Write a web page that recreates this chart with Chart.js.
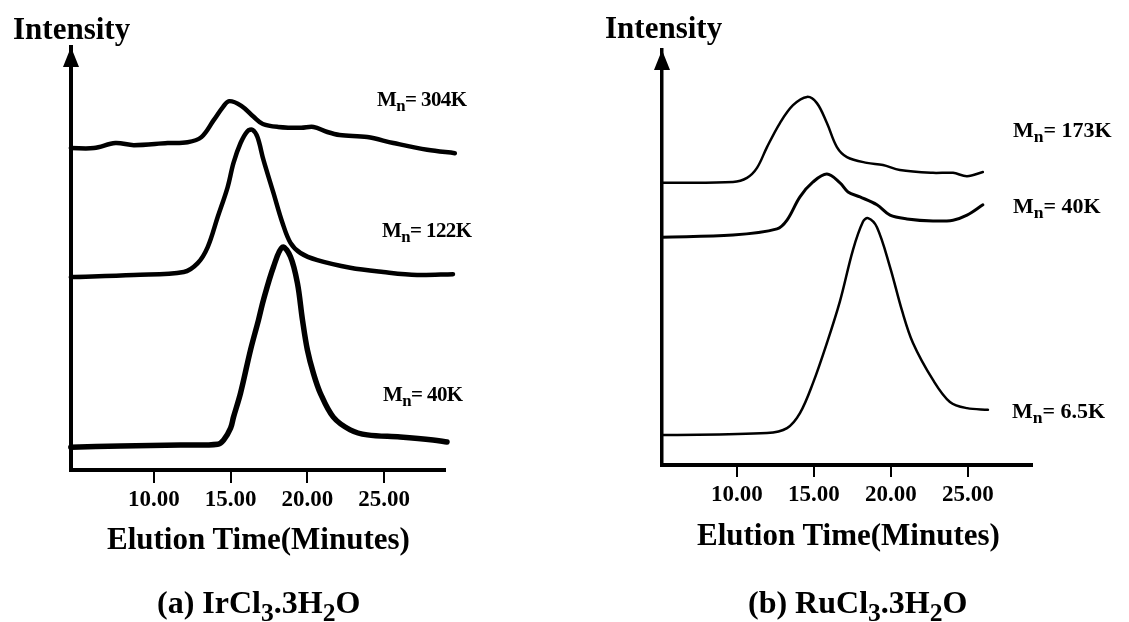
<!DOCTYPE html>
<html>
<head>
<meta charset="utf-8">
<script src="https://cdn.jsdelivr.net/npm/chart.js@4"></script>
<style>
html, body { margin: 0; padding: 0; background: #fff; }
#page { position: relative; width: 1129px; height: 622px; overflow: hidden;
        font-family: "Liberation Serif", "Times New Roman", serif; font-weight: bold; color: #000; }
canvas { position: absolute; top: 0; }
.lbl { position: absolute; line-height: 1; white-space: nowrap; }
.sub { font-size: 0.8em; position: relative; top: 0.3em; }
.mn { letter-spacing: -0.6px; }
</style>
</head>
<body>
<div id="page">
  <canvas id="chartA" width="565" height="622" style="left:0"></canvas>
  <canvas id="chartB" width="564" height="622" style="left:565px"></canvas>

  <div class="lbl" style="left:13px;top:13px;font-size:31px">Intensity</div>
  <div class="lbl" style="left:605px;top:12px;font-size:31px">Intensity</div>

  <div class="lbl mn" style="left:377px;top:89px;font-size:21px">M<span class="sub">n</span>= 304K</div>
  <div class="lbl mn" style="left:382px;top:220px;font-size:21px">M<span class="sub">n</span>= 122K</div>
  <div class="lbl mn" style="left:383px;top:384px;font-size:21px">M<span class="sub">n</span>= 40K</div>

  <div class="lbl" style="left:1013px;top:119px;font-size:22px">M<span class="sub">n</span>= 173K</div>
  <div class="lbl" style="left:1013px;top:195px;font-size:22px">M<span class="sub">n</span>= 40K</div>
  <div class="lbl" style="left:1012px;top:400px;font-size:22px">M<span class="sub">n</span>= 6.5K</div>

  <div class="lbl" style="left:107px;top:523px;font-size:31px">Elution Time(Minutes)</div>
  <div class="lbl" style="left:697px;top:519px;font-size:31px">Elution Time(Minutes)</div>

  <div class="lbl" style="left:157px;top:586px;font-size:32px">(a) IrCl<span class="sub">3</span>.3H<span class="sub">2</span>O</div>
  <div class="lbl" style="left:748px;top:586px;font-size:32px">(b) RuCl<span class="sub">3</span>.3H<span class="sub">2</span>O</div>
</div>

<script>
var xTicks = [10, 15, 20, 25];

// (a) IrCl3.3H2O  - elution time (min) and intensity (arbitrary units)
var timeA304 = [4.6, 6.1, 7.5, 8.7, 10.9, 12.2, 13.1, 13.9, 14.5, 14.9, 15.7, 16.5, 17.1, 18.1, 19.6, 20.4, 21.3, 22.1, 23.9, 25.6, 27.8, 29.6];
var intA304  = [76.1, 76.1, 77.3, 76.8, 77.3, 77.5, 78.7, 82.7, 85.8, 87.2, 86.1, 83.5, 81.8, 81.1, 80.9, 81.1, 79.9, 79.2, 78.7, 77.3, 75.7, 74.9];

var timeA122 = [4.6, 8.7, 11.95, 12.86, 13.51, 14.16, 14.81, 15.19, 15.65, 16.1, 16.43, 16.75, 17.14, 17.79, 18.38, 18.9, 19.55, 20.65, 22.79, 24.94, 27.14, 29.48];
var intA122  = [45.6, 46.1, 46.8, 48.9, 52.7, 59.8, 66.9, 72.6, 77.3, 80.1, 80.4, 78.7, 73.3, 65.5, 58.4, 53.7, 51.3, 49.6, 47.8, 46.8, 46.1, 46.3];

var timeA40 = [4.6, 7.86, 11.75, 14.16, 14.55, 15.0, 15.19, 15.65, 16.3, 16.82, 17.14, 17.79, 18.38, 18.9, 19.35, 19.68, 20.0, 20.39, 20.84, 21.69, 22.79, 23.9, 26.04, 28.18, 29.09];
var intA40  = [5.4, 5.7, 5.9, 6.1, 7.1, 9.9, 12.5, 18.2, 28.4, 35.5, 40.2, 48.0, 52.7, 50.4, 44.2, 35.5, 28.4, 22.9, 18.2, 12.5, 9.5, 8.3, 7.8, 7.1, 6.6];

// (b) RuCl3.3H2O
var timeB173 = [5.13, 9.74, 10.65, 11.3, 11.95, 12.79, 13.64, 14.55, 15.19, 15.84, 16.49, 17.14, 18.44, 19.48, 20.58, 22.73, 24.03, 24.94, 25.97];
var intB173  = [68.0, 68.2, 69.2, 71.6, 76.6, 82.4, 86.7, 88.7, 87.2, 82.4, 76.6, 74.2, 72.8, 72.3, 71.1, 70.4, 70.4, 69.6, 70.6];

var timeB40 = [5.13, 9.74, 12.6, 13.25, 14.09, 14.94, 15.84, 16.69, 17.21, 17.99, 19.09, 19.94, 21.04, 22.73, 24.03, 24.94, 25.97];
var intB40  = [54.9, 55.4, 56.9, 59.0, 64.6, 68.2, 70.1, 68.0, 65.8, 64.6, 62.7, 60.2, 59.3, 58.8, 59.0, 60.2, 62.7];

var timeB6 = [5.13, 11.95, 13.25, 14.09, 14.94, 15.84, 16.69, 17.53, 18.18, 18.51, 19.09, 19.94, 20.71, 21.43, 22.73, 23.83, 24.94, 26.3];
var intB6  = [7.2, 7.7, 8.9, 12.5, 19.8, 29.4, 39.5, 51.8, 58.6, 59.5, 57.3, 47.7, 37.3, 29.4, 20.5, 15.2, 13.7, 13.3];

var fontFamily = '"Liberation Serif", "Times New Roman", serif';

function pairs(xs, ys) {
    return xs.map(function(x, i) { return {x: x, y: ys[i]}; });
}

function series(xs, ys, width) {
    return {
        data: pairs(xs, ys),
        borderColor: '#000',
        borderWidth: width,
        pointRadius: 0,
        fill: false,
        tension: 0.35,
        borderJoinStyle: 'round',
        borderCapStyle: 'round',
        clip: false
    };
}

var arrowPlugin = {
    id: 'axisArrow',
    afterDraw: function(chart) {
        var ctx = chart.ctx, a = chart.chartArea;
        ctx.save();
        ctx.fillStyle = '#000';
        ctx.beginPath();
        ctx.moveTo(a.left, a.top);
        ctx.lineTo(a.left - 8, a.top + 20);
        ctx.lineTo(a.left + 8, a.top + 20);
        ctx.closePath();
        ctx.fill();
        ctx.restore();
    }
};

function createChart(canvas, datasets, s) {
    return new Chart(canvas, {
        type: 'line',
        data: { datasets: datasets },
        plugins: [arrowPlugin],
        options: {
            responsive: false,
            animation: false,
            events: [],
            layout: { padding: { top: s.top, right: s.right, left: 0, bottom: 0 } },
            plugins: { legend: { display: false }, tooltip: { enabled: false } },
            scales: {
                x: {
                    type: 'linear',
                    min: s.xMin,
                    max: s.xMax,
                    afterBuildTicks: function(scale) {
                        scale.ticks = xTicks.map(function(v) { return {value: v}; });
                    },
                    afterFit: function(scale) { scale.height = s.xHeight; },
                    grid: { display: true, drawOnChartArea: false, drawTicks: true, tickLength: s.tickLen, color: '#000', lineWidth: 2 },
                    border: { display: true, color: '#000', width: 4 },
                    ticks: {
                        color: '#000',
                        padding: s.tickPad,
                        maxRotation: 0,
                        font: { family: fontFamily, size: 23, weight: 'bold' },
                        callback: function(v) { return Number(v).toFixed(2); }
                    }
                },
                y: {
                    min: 0,
                    max: 100,
                    afterFit: function(scale) { scale.width = s.yWidth; },
                    grid: { display: false },
                    border: { display: true, color: '#000', width: s.yBorder },
                    ticks: { display: false }
                }
            }
        }
    });
}

var chartA = createChart(document.getElementById('chartA'), [
    series(timeA304, intA304, 4.5),
    series(timeA122, intA122, 4.5),
    series(timeA40, intA40, 5.5)
], { top: 47, right: 120, xMin: 4.61, xMax: 28.96, xHeight: 152, yWidth: 71, tickLen: 13, tickPad: 3, yBorder: 4 });

var chartB = createChart(document.getElementById('chartB'), [
    series(timeB173, intB173, 2.5),
    series(timeB40, intB40, 3),
    series(timeB6, intB6, 2.5)
], { top: 50, right: 97, xMin: 5.13, xMax: 29.16, xHeight: 157, yWidth: 97, tickLen: 12, tickPad: 4, yBorder: 3.5 });
</script>
</body>
</html>
